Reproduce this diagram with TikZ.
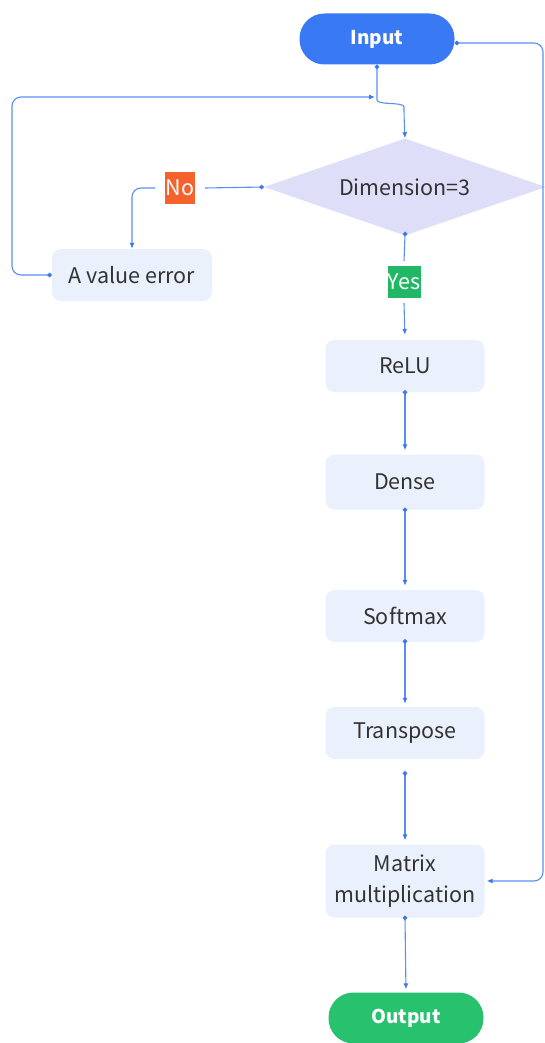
\documentclass[tikz,border=0pt]{standalone}
\usepackage{fontspec}
\setmainfont{Noto Sans CJK SC}
\usetikzlibrary{arrows.meta,shapes.geometric}
\definecolor{linkblue}{HTML}{5A8EF7}
\definecolor{tipblue}{HTML}{3D78F2}
\definecolor{startblue}{HTML}{3A79F4}
\definecolor{stepfill}{HTML}{EAF0FC}
\definecolor{testfill}{HTML}{DEDEF9}
\definecolor{notag}{HTML}{F5622D}
\definecolor{yestag}{HTML}{22B765}
\definecolor{endgreen}{HTML}{28C16E}
\definecolor{ink}{HTML}{333333}
\begin{document}
\begin{tikzpicture}[x=1pt,y=-1pt,
    font=\fontsize{21.5}{31}\selectfont,
    box/.style={rectangle,rounded corners=9pt,fill=stepfill,text=ink,
      minimum width=159pt,minimum height=52pt,inner sep=0pt,align=center},
    pill/.style={rectangle,rounded corners=25pt,text=white,font=\fontsize{19}{23}\selectfont\bfseries,
      minimum width=155pt,minimum height=51pt,inner sep=0pt},
    tag/.style={rectangle,text=white,minimum width=30pt,minimum height=32pt,inner sep=0pt},
    flow/.style={draw=linkblue,line width=1.1pt,rounded corners=9pt,
      {Circle[length=4.5pt,color=tipblue]}-{Latex[length=6pt,width=5pt,color=tipblue]}}]
  \useasboundingbox (0,0) rectangle (545,1043);

  \node[pill,fill=startblue] (input) at (377,39) {Input};
  \node[diamond,aspect=2.9,fill=testfill,text=ink,inner sep=0pt,
    minimum width=282pt,minimum height=97pt] (dim) at (405,187) {Dimension=3};
  \node[box,minimum width=160pt] (err) at (132,275) {A value error};
  \node[tag,fill=notag,outer xsep=10pt] (no) at (180,188) {No};
  \node[tag,fill=yestag,minimum width=33pt,outer ysep=5pt] (yes) at (404,282) {Yes};

  \node[box] (relu) at (405,366) {ReLU};
  \node[box,minimum height=55pt] (dense) at (405,482) {Dense};
  \node[box] (softmax) at (405,616) {Softmax};
  \node[box] (transpose) at (405,733) {Transpose};
  \node[box,minimum height=73pt] (matmul) at (405,881) {Matrix\\multiplication};
  \node[pill,fill=endgreen] (output) at (406,1018) {Output};

  \coordinate (merge) at (377,97);
  \coordinate (back) at (12,180);
  \coordinate (rail) at (543,460);

  \draw[flow] (input.south) -- (377,91) to[out=-90,in=90] (404,116) -- (dim.north);
  \draw[flow] (err.west) -| (back) |- ([xshift=-2pt]merge);
  \draw[draw=linkblue,line width=1.1pt,{Circle[length=4.5pt,color=tipblue]}-] (dim.west) -- (no.east);
  \draw[flow,{}-{Latex[length=6pt,width=5pt,color=tipblue]}] (no.west) -| (err.north);
  \draw[draw=linkblue,line width=1.1pt,{Circle[length=4.5pt,color=tipblue]}-,shorten <=-4pt] (dim.south) -- (yes.north);
  \draw[flow,{}-{Latex[length=6pt,width=5pt,color=tipblue]},shorten >=5pt] (yes.south) -- (relu.north);

  \draw[flow,shorten <=-2pt,shorten >=4pt] (relu.south) -- (dense.north);
  \draw[flow,shorten <=-2pt,shorten >=4pt] (dense.south) -- (softmax.north);
  \draw[flow,shorten <=-3pt,shorten >=3pt] (softmax.south) -- (transpose.north);
  \draw[flow,shorten <=12pt,shorten >=4pt] (transpose.south) -- (matmul.north);
  \draw[flow,shorten <=-2pt,shorten >=3pt] (matmul.south) -- (output.north);
  \draw[flow] ([yshift=-4pt]input.east) -| (rail) |- ([xshift=2pt]matmul.east);
\end{tikzpicture}
\end{document}
